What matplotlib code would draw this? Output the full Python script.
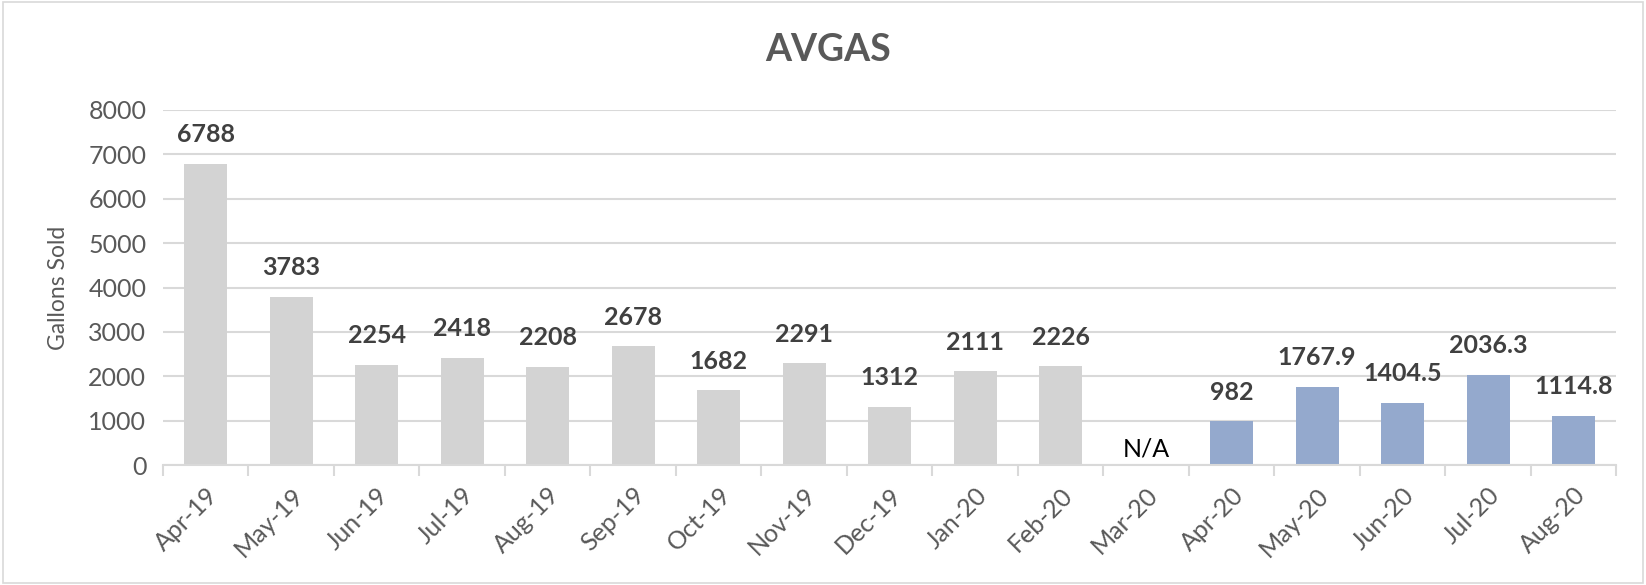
import matplotlib.pyplot as plt
from matplotlib.patches import Rectangle
from matplotlib.transforms import ScaledTranslation

# Monthly AVGAS sales
months = ["Apr-19", "May-19", "Jun-19", "Jul-19", "Aug-19", "Sep-19", "Oct-19", "Nov-19",
          "Dec-19", "Jan-20", "Feb-20", "Mar-20", "Apr-20", "May-20", "Jun-20", "Jul-20", "Aug-20"]
gallons = [6788, 3783, 2254, 2418, 2208, 2678, 1682, 2291, 1312, 2111, 2226, None,
           982, 1767.9, 1404.5, 2036.3, 1114.8]
labels = ["6788", "3783", "2254", "2418", "2208", "2678", "1682", "2291", "1312", "2111", "2226", "N/A",
          "982", "1767.9", "1404.5", "2036.3", "1114.8"]
is_2020_covid = [False] * 12 + [True] * 5

plt.rcParams['font.family'] = ['Lato', 'DejaVu Sans']

fig = plt.figure(figsize=(16.46, 5.85), dpi=100)
ax = fig.add_axes([0.099, 0.205, 0.883, 0.607])

x = list(range(len(months)))
heights = [v if v is not None else 0 for v in gallons]
colors = ["#94a9cd" if c else "#d3d3d3" for c in is_2020_covid]
ax.bar(x, heights, width=0.5, color=colors, zorder=2)

# data labels
for i, (v, lab) in enumerate(zip(gallons, labels)):
    if v is None:
        ax.annotate(lab, (i, 0), xytext=(0, 11.5), textcoords="offset points",
                    ha="center", va="center", fontsize=18, color="black")
    else:
        ax.annotate(lab, (i, v), xytext=(0, 21), textcoords="offset points",
                    ha="center", va="center", fontsize=18, fontweight="bold", color="#404040")

ax.set_xlim(-0.5, len(months) - 0.5)
ax.set_ylim(0, 8000)
ax.set_yticks(range(0, 8001, 1000))
ax.yaxis.grid(True, color="#d9d9d9", linewidth=1.5, zorder=1)
ax.set_axisbelow(True)

for s in ["top", "right", "left"]:
    ax.spines[s].set_visible(False)
ax.spines["bottom"].set_color("#d9d9d9")
ax.spines["bottom"].set_linewidth(1.5)

ax.set_xticks(x)
ax.set_xticklabels(months, rotation=45, ha="right", rotation_mode="anchor")
shift = ScaledTranslation(6 / 100, 0, fig.dpi_scale_trans)
for t in ax.get_xticklabels():
    t.set_transform(t.get_transform() + shift)
ax.set_xticks([i - 0.5 for i in range(len(months) + 1)], minor=True)
ax.tick_params(axis="x", which="major", length=0, pad=13, labelsize=18, labelcolor="#595959")
ax.tick_params(axis="x", which="minor", length=8, width=1.5, color="#d9d9d9")
ax.tick_params(axis="y", length=0, pad=12, labelsize=18, labelcolor="#595959")

ax.set_ylabel("Gallons Sold", fontsize=16.5, color="#595959", labelpad=14)
fig.text(0.503, 0.915, "AVGAS", ha="center", va="center", fontsize=27,
         fontweight="bold", color="#595959")

# chart border
fig.patches.append(Rectangle((0.002, 0.004), 0.996, 0.992, transform=fig.transFigure,
                             fill=False, edgecolor="#d9d9d9", linewidth=1.2))

fig.savefig("out.png", dpi=100)
